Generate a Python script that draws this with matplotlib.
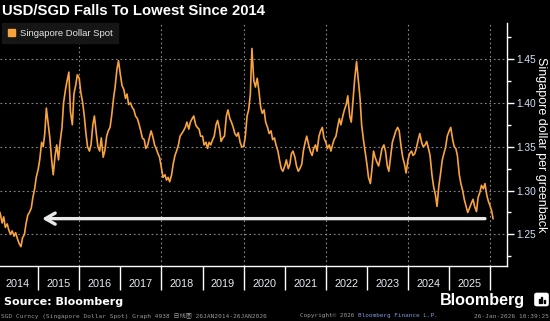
import matplotlib
matplotlib.use("Agg")
import matplotlib.pyplot as plt
import matplotlib.dates as mdates
from matplotlib.patches import Patch, Rectangle, FancyBboxPatch
from matplotlib.ticker import MultipleLocator, NullFormatter, FormatStrFormatter
import pandas as pd

title = "USD/SGD Falls To Lowest Since 2014"
series_name = "Singapore Dollar Spot"
ylabel = "Singapore dollar per greenback"

# USD/SGD spot, read off the chart twice a month (1st / 15th)
# 2014 starts on 26 Jan, 2026 ends on 26 Jan
y2014 = [1.275, 1.272, 1.263, 1.270, 1.258, 1.262, 1.255, 1.250, 1.254, 1.248, 1.252, 1.245,
         1.240, 1.236, 1.246, 1.250, 1.262, 1.272, 1.275, 1.280, 1.292, 1.302, 1.315]
y2015 = [1.324, 1.335, 1.355, 1.350, 1.365, 1.394, 1.375, 1.360, 1.335, 1.318, 1.340, 1.352,
         1.335, 1.355, 1.372, 1.400, 1.415, 1.425, 1.435, 1.390, 1.375, 1.410, 1.420, 1.432]
y2016 = [1.428, 1.412, 1.400, 1.385, 1.365, 1.350, 1.345, 1.352, 1.375, 1.385, 1.365, 1.350,
         1.345, 1.360, 1.338, 1.345, 1.362, 1.368, 1.372, 1.385, 1.405, 1.418, 1.438, 1.448]
y2017 = [1.432, 1.420, 1.415, 1.405, 1.410, 1.398, 1.400, 1.395, 1.392, 1.385, 1.382, 1.376,
         1.368, 1.360, 1.358, 1.348, 1.352, 1.360, 1.368, 1.362, 1.352, 1.348, 1.342, 1.338]
y2018 = [1.325, 1.315, 1.318, 1.312, 1.315, 1.310, 1.318, 1.330, 1.340, 1.345, 1.352, 1.362,
         1.365, 1.368, 1.372, 1.378, 1.370, 1.378, 1.382, 1.385, 1.375, 1.372, 1.370, 1.362]
y2019 = [1.362, 1.352, 1.355, 1.348, 1.355, 1.352, 1.358, 1.362, 1.375, 1.380, 1.370, 1.356,
         1.360, 1.362, 1.385, 1.392, 1.382, 1.378, 1.372, 1.365, 1.362, 1.366, 1.355, 1.350]
y2020 = [1.350, 1.360, 1.385, 1.392, 1.410, 1.462, 1.425, 1.418, 1.428, 1.415, 1.395, 1.388,
         1.392, 1.378, 1.372, 1.365, 1.368, 1.358, 1.360, 1.352, 1.345, 1.335, 1.325, 1.322]
y2021 = [1.328, 1.335, 1.325, 1.330, 1.342, 1.345, 1.338, 1.328, 1.322, 1.325, 1.330, 1.345,
         1.355, 1.362, 1.352, 1.345, 1.340, 1.348, 1.352, 1.345, 1.362, 1.368, 1.372, 1.360]
y2022 = [1.355, 1.348, 1.352, 1.345, 1.352, 1.358, 1.362, 1.372, 1.382, 1.375, 1.385, 1.392,
         1.398, 1.408, 1.385, 1.378, 1.405, 1.428, 1.447, 1.428, 1.405, 1.375, 1.358, 1.345]
y2023 = [1.330, 1.315, 1.308, 1.325, 1.345, 1.338, 1.332, 1.328, 1.338, 1.348, 1.352, 1.345,
         1.328, 1.322, 1.340, 1.355, 1.362, 1.368, 1.372, 1.368, 1.350, 1.338, 1.330, 1.320]
y2024 = [1.335, 1.342, 1.345, 1.340, 1.342, 1.348, 1.358, 1.365, 1.355, 1.350, 1.352, 1.356,
         1.348, 1.340, 1.318, 1.305, 1.295, 1.282, 1.305, 1.318, 1.335, 1.342, 1.350, 1.362]
y2025 = [1.368, 1.372, 1.358, 1.350, 1.348, 1.340, 1.318, 1.308, 1.300, 1.290, 1.282, 1.275,
         1.280, 1.285, 1.290, 1.282, 1.276, 1.292, 1.298, 1.306, 1.302, 1.308, 1.295, 1.288]
y2026 = [1.282, 1.276, 1.268]

spot = y2014 + y2015 + y2016 + y2017 + y2018 + y2019 + y2020 + y2021 + y2022 + y2023 + y2024 + y2025 + y2026
dates = ([pd.Timestamp("2014-01-26")]
         + list(pd.date_range("2014-02-01", "2026-01-15", freq="SMS"))
         + [pd.Timestamp("2026-01-26")])

arrow_level = 1.268
arrow_from = pd.Timestamp("2025-11-15")
arrow_to = pd.Timestamp("2015-02-05")

W, H = 550, 321
fig = plt.figure(figsize=(W / 100, H / 100), dpi=100, facecolor="black")
ax = fig.add_axes([0, 1 - 266 / H, 507 / W, (266 - 23) / H])
ax.set_facecolor("black")

ax.plot(dates, spot, color="#f8a33e", lw=1.2, zorder=3)

ax.set_xlim(pd.Timestamp("2014-01-27"), pd.Timestamp("2026-05-30"))
ax.set_ylim(1.214, 1.491)

# y axis on the right
ax.yaxis.tick_right()
ax.yaxis.set_major_locator(MultipleLocator(0.05))
ax.yaxis.set_minor_locator(MultipleLocator(0.025))
ax.yaxis.set_major_formatter(FormatStrFormatter("%.2f"))
ax.tick_params(axis="y", which="major", colors="white", labelcolor="#d3e2f7",
               length=5, width=1, labelsize=7.3, pad=1.5)
ax.tick_params(axis="y", which="minor", colors="white", length=3, width=1)
for lab in ax.get_yticklabels():
    lab.set_family("Liberation Sans")

# x axis: year separators + centred year labels
ax.xaxis.set_major_locator(mdates.YearLocator())
ax.xaxis.set_major_formatter(NullFormatter())
ax.xaxis.set_minor_locator(mdates.MonthLocator(bymonth=7))
ax.xaxis.set_minor_formatter(mdates.DateFormatter("%Y"))
ax.tick_params(axis="x", which="major", colors="white", length=17, width=1)
ax.tick_params(axis="x", which="minor", length=0, labelsize=7.8, labelcolor="#e6ecf3", pad=9.5)
for lab in ax.get_xticklabels(minor=True):
    lab.set_family("Liberation Sans")

for s in ["left", "top"]:
    ax.spines[s].set_visible(False)
for s in ["right", "bottom"]:
    ax.spines[s].set_color("white")
    ax.spines[s].set_linewidth(1)

ax.grid(axis="y", which="major", color="#8a8a8a", lw=0.8, ls=(0, (1.5, 2.5)))
for yr in range(2016, 2027, 2):
    ax.axvline(pd.Timestamp(f"{yr}-01-01"), color="#8a8a8a", lw=0.8, ls=(0, (1.5, 2.5)), zorder=1)

ax.annotate("", xy=(arrow_to, arrow_level), xytext=(arrow_from, arrow_level),
            arrowprops=dict(arrowstyle="->,head_length=0.7,head_width=0.4",
                            color="#e8e8e8", lw=2.4, shrinkA=0, shrinkB=0), zorder=4)

ax.legend(handles=[Patch(color="#f8a33e", label=series_name)], loc="upper left",
          bbox_to_anchor=(2 / 507, 1.0), borderaxespad=0, frameon=True, fancybox=False,
          facecolor="#161616", edgecolor="#161616", framealpha=1,
          prop={"family": "Liberation Sans", "size": 6.8}, labelcolor="#e6e6e6",
          handlelength=0.8, handleheight=0.8, handletextpad=0.5, borderpad=0.6)

fig.text(541 / W, 1 - 145 / H, ylabel, rotation=270, ha="center", va="center",
         color="white", fontsize=9, family="Liberation Sans")

fig.text(2 / W, 1 - 11 / H, title, ha="left", va="center", color="white",
         fontsize=10.7, fontweight="bold", family="Liberation Sans")

fig.text(4 / W, 1 - 302 / H, "Source: Bloomberg", ha="left", va="center", color="white",
         fontsize=8, fontweight="bold", family="DejaVu Sans")

fig.text(1 / W, 1 - 316 / H, "SGD Curncy (Singapore Dollar Spot) Graph 4938 日线图 26JAN2014-26JAN2026",
         ha="left", va="center", color="#9a9a9a", fontsize=4.4,
         family=["DejaVu Sans Mono", "Noto Sans CJK SC"])
fig.text(300 / W, 1 - 316 / H, "Copyright\u00a9 2026", ha="left", va="center",
         color="#9a9a9a", fontsize=4.35, family="DejaVu Sans Mono")
fig.text(358 / W, 1 - 316 / H, "Bloomberg Finance L.P.", ha="left", va="center",
         color="#7d9ad6", fontsize=4.35, family="DejaVu Sans Mono")
fig.text(549 / W, 1 - 316 / H, "26-Jan-2026 10:39:25", ha="right", va="center",
         color="#9a9a9a", fontsize=4.4, family="DejaVu Sans Mono")

# Bloomberg wordmark and icon
fig.text(440 / W, 1 - 300 / H, "Bloomberg", ha="left", va="center", color="white",
         fontsize=11.6, fontweight="bold", family="Liberation Sans")
fig.add_artist(FancyBboxPatch((536 / W, 1 - 305 / H), 11 / W, 11 / H,
                              boxstyle="round,pad=0.002,rounding_size=0.004",
                              transform=fig.transFigure, color="white"))
for bx, bh in [(538.5, 4), (541, 6), (543.5, 3)]:
    fig.add_artist(Rectangle((bx / W, 1 - 303 / H), 1.4 / W, bh / H, transform=fig.transFigure,
                             color="black"))

fig.savefig("out.png", dpi=100, facecolor="black")
